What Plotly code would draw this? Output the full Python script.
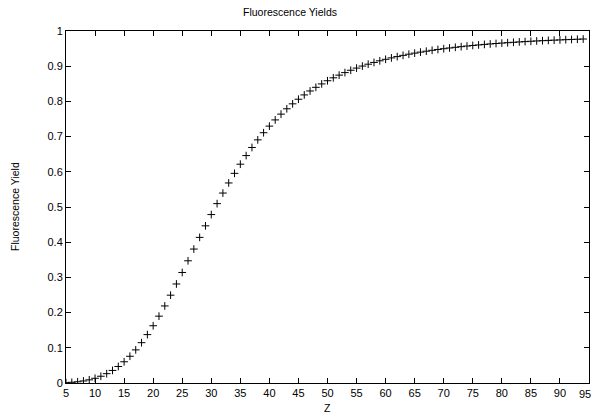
import plotly.graph_objects as go

Z = list(range(5, 95))
yield_vals = [
    0.0010, 0.0020, 0.0035, 0.0058, 0.0090, 0.0134, 0.0192, 0.0265, 0.0357, 0.0469,
    0.0603, 0.0760, 0.0941, 0.1146, 0.1375, 0.1627, 0.1899, 0.2189, 0.2495, 0.2813,
    0.3140, 0.3472, 0.3805, 0.4137, 0.4465, 0.4785, 0.5096, 0.5396, 0.5683, 0.5956,
    0.6216, 0.6461, 0.6691, 0.6907, 0.7110, 0.7298, 0.7474, 0.7638, 0.7790, 0.7931,
    0.8062, 0.8184, 0.8296, 0.8400, 0.8497, 0.8587, 0.8670, 0.8747, 0.8818, 0.8885,
    0.8946, 0.9004, 0.9057, 0.9107, 0.9153, 0.9196, 0.9236, 0.9273, 0.9308, 0.9341,
    0.9371, 0.9400, 0.9426, 0.9452, 0.9475, 0.9497, 0.9518, 0.9537, 0.9555, 0.9573,
    0.9589, 0.9604, 0.9619, 0.9632, 0.9645, 0.9657, 0.9668, 0.9679, 0.9689, 0.9699,
    0.9708, 0.9717, 0.9725, 0.9733, 0.9740, 0.9747, 0.9754, 0.9760, 0.9766, 0.9772,
]
x_ticks = list(range(5, 100, 5))
y_ticks = [0, 0.1, 0.2, 0.3, 0.4, 0.5, 0.6, 0.7, 0.8, 0.9, 1]
y_tick_labels = ["0", "0.1", "0.2", "0.3", "0.4", "0.5", "0.6", "0.7", "0.8", "0.9", "1"]

FONT = "Liberation Sans, Arial, Helvetica, sans-serif"

fig = go.Figure()
fig.add_trace(go.Scatter(
    x=Z, y=yield_vals, mode="markers",
    marker=dict(symbol="cross-thin", size=5.5, color="black",
                line=dict(color="black", width=1)),
    showlegend=False,
))

axis_common = dict(
    showgrid=False, zeroline=False, showline=True, linecolor="black", linewidth=1,
    mirror="ticks", ticks="inside", ticklen=5, tickwidth=1, tickcolor="black",
    tickfont=dict(family=FONT, size=11, color="black"),
)

annotations = [
    dict(text="Fluorescence Yields", xref="paper", yref="paper",
         x=(290 - 66) / 523, y=(417 - 12 - 34) / 352, xanchor="center", yanchor="middle",
         showarrow=False, font=dict(family=FONT, size=10.5, color="black")),
    dict(text="Z", xref="paper", yref="paper",
         x=(327 - 66) / 523, y=-(408 - 383) / 352, xanchor="center", yanchor="middle",
         showarrow=False, font=dict(family=FONT, size=10.5, color="black")),
    dict(text="Fluorescence Yield", xref="paper", yref="paper", textangle=-90,
         x=-(66 - 15) / 523, y=0.5, xanchor="center", yanchor="middle",
         showarrow=False, font=dict(family=FONT, size=10.5, color="black")),
]
# last x tick label, which plotly drops at the right edge; kept fully inside the page
annotations.append(dict(text=str(x_ticks[-1]), xref="x", yref="paper",
                        x=x_ticks[-1], y=0, xanchor="right", yanchor="top",
                        xshift=4, yshift=-3,
                        showarrow=False, font=dict(family=FONT, size=11, color="black")))

fig.update_layout(
    width=593, height=417,
    margin=dict(l=66, r=4, t=31, b=34),
    paper_bgcolor="white", plot_bgcolor="white",
    font=dict(family=FONT, size=11, color="black"),
    xaxis=dict(range=[5, 95], tickvals=x_ticks, **axis_common),
    yaxis=dict(range=[0, 1], tickvals=y_ticks, ticktext=y_tick_labels, **axis_common),
    annotations=annotations,
)

fig.write_html("out.html")
